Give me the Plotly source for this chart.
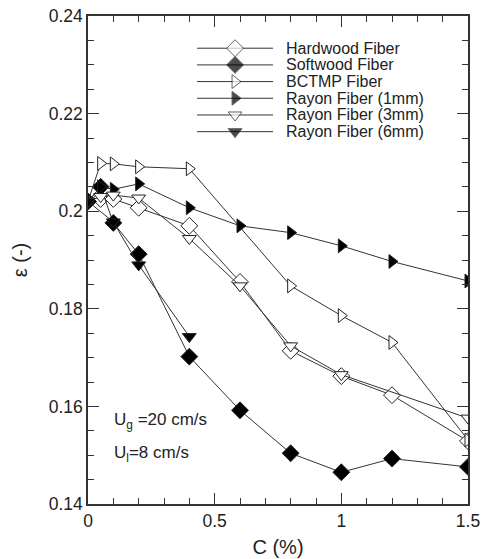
import plotly.graph_objects as go

# Data
hard_x = [0, 0.05, 0.1, 0.2, 0.4, 0.6, 0.8, 1.0, 1.2, 1.5]
hard_y = [0.202, 0.2025, 0.2025, 0.2007, 0.197, 0.1855, 0.1714, 0.1662, 0.1623, 0.1529]

soft_x = [0, 0.05, 0.1, 0.2, 0.4, 0.6, 0.8, 1.0, 1.2, 1.5]
soft_y = [0.2020, 0.2050, 0.1976, 0.1912, 0.1702, 0.1592, 0.1504, 0.1465, 0.1493, 0.1476]

bctmp_x = [0, 0.05, 0.1, 0.2, 0.4, 0.8, 1.0, 1.2, 1.5]
bctmp_y = [0.202, 0.2098, 0.2097, 0.2091, 0.2087, 0.1847, 0.1786, 0.1731, 0.1531]

r1_x = [0, 0.05, 0.1, 0.2, 0.4, 0.6, 0.8, 1.0, 1.2, 1.5]
r1_y = [0.202, 0.2050, 0.2045, 0.2056, 0.2007, 0.1970, 0.1956, 0.1929, 0.1897, 0.1857]

r3_x = [0, 0.05, 0.1, 0.2, 0.4, 0.6, 0.8, 1.0, 1.5]
r3_y = [0.202, 0.2030, 0.2033, 0.2027, 0.1944, 0.1847, 0.1724, 0.1665, 0.1576]

r6_x = [0, 0.1, 0.2, 0.4]
r6_y = [0.202, 0.1978, 0.1890, 0.1743]

names = ["Hardwood Fiber", "Softwood Fiber", "BCTMP Fiber",
         "Rayon Fiber (1mm)", "Rayon Fiber (3mm)", "Rayon Fiber (6mm)"]
xs_all = [hard_x, soft_x, bctmp_x, r1_x, r3_x, r6_x]
ys_all = [hard_y, soft_y, bctmp_y, r1_y, r3_y, r6_y]
symbols = ["diamond", "diamond", "triangle-right", "triangle-right", "triangle-down", "triangle-down"]
fills = ["white", "black", "white", "black", "white", "black"]
sizes = [13, 13, 12, 12, 12, 12]

font_family = "Liberation Sans, Arial, Helvetica, sans-serif"
ink = "#222222"

fig = go.Figure()
for name, xs, ys, sym, fill, size in zip(names, xs_all, ys_all, symbols, fills, sizes):
    fig.add_trace(go.Scatter(
        x=xs, y=ys, name=name, mode="lines+markers", showlegend=False,
        line=dict(color="#333333", width=1),
        marker=dict(symbol=sym, size=size, color=fill,
                    line=dict(color=ink, width=1)),
    ))

# Hand-built legend (samples on an overlay axis in plot-area fractions)
leg_x0, leg_xm, leg_x1, leg_tx = 0.287, 0.387, 0.487, 0.515
leg_y0, leg_dy = 0.934, 0.0342
for i, (name, sym, fill, size) in enumerate(zip(names, symbols, fills, sizes)):
    yy = leg_y0 - i * leg_dy
    fig.add_trace(go.Scatter(
        x=[leg_x0, leg_xm, leg_x1], y=[yy, yy, yy], xaxis="x2", yaxis="y2",
        mode="lines+markers", showlegend=False, hoverinfo="skip",
        line=dict(color="#333333", width=1),
        marker=dict(symbol=sym, size=[0, size, 0], color=fill,
                    line=dict(color=ink, width=[0, 1, 0])),
    ))
    fig.add_annotation(x=leg_tx, y=yy, xref="x2", yref="y2", xanchor="left",
                       yanchor="middle", text=name, showarrow=False,
                       font=dict(size=16, color=ink, family=font_family))

axis_common = dict(
    showline=True, linecolor="#333333", linewidth=1.5, mirror="ticks",
    ticks="inside", ticklen=11, tickwidth=1, tickcolor="#333333",
    showgrid=False, zeroline=False, automargin=False,
    tickfont=dict(size=17.5, color=ink, family=font_family),
)

fig.update_xaxes(
    range=[0, 1.5], tickvals=[0, 0.5, 1, 1.5], ticktext=["0", "0.5", "1", "1.5"],
    minor=dict(dtick=0.1, ticks="inside", ticklen=6, tickcolor="#333333", tickwidth=1),
    title=dict(text="C (%)", font=dict(size=20, color=ink, family=font_family), standoff=10),
    **axis_common,
)
fig.update_yaxes(
    range=[0.14, 0.24], tickvals=[0.14, 0.16, 0.18, 0.2, 0.22, 0.24],
    ticktext=["0.14", "0.16", "0.18", "0.2", "0.22", "0.24"],
    minor=dict(dtick=0.005, ticks="inside", ticklen=6, tickcolor="#333333", tickwidth=1),
    title=dict(text="ε (-)", font=dict(size=20, color=ink, family=font_family), standoff=16),
    **axis_common,
)

fig.add_annotation(x=0.095, y=0.1571, xref="x", yref="y", xanchor="left", yanchor="middle",
                   text="U<sub>g</sub> =20 cm/s", showarrow=False,
                   font=dict(size=17, color=ink, family=font_family))
fig.add_annotation(x=0.095, y=0.1502, xref="x", yref="y", xanchor="left", yanchor="middle",
                   text="U<sub>l</sub>=8 cm/s", showarrow=False,
                   font=dict(size=17, color=ink, family=font_family))

fig.update_layout(
    width=485, height=559,
    margin=dict(l=88, r=17, t=16, b=55),
    paper_bgcolor="white", plot_bgcolor="white",
    showlegend=False,
    xaxis2=dict(overlaying="x", range=[0, 1], visible=False, fixedrange=True),
    yaxis2=dict(overlaying="y", range=[0, 1], visible=False, fixedrange=True),
)

fig.write_html("out.html", config={"displayModeBar": False},
               post_script="document.body.style.margin='0';")
